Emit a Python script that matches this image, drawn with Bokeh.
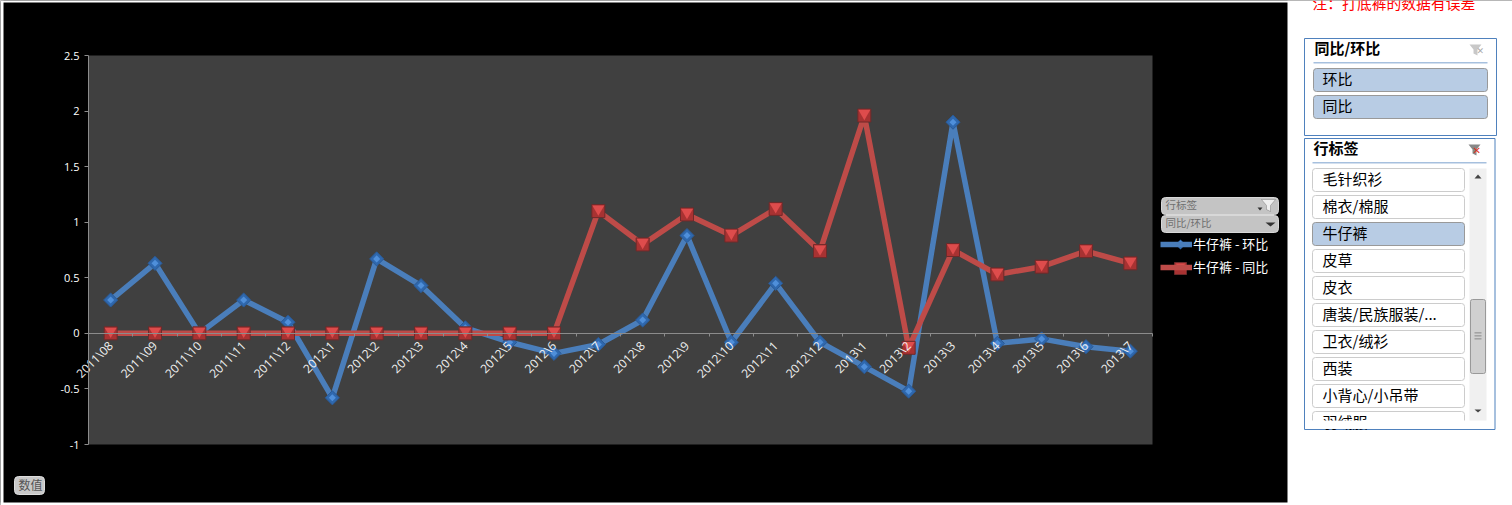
from math import pi
from bokeh.plotting import figure
from bokeh.embed import file_html
from bokeh.resources import INLINE
from bokeh.transform import dodge
from bokeh.models import (ColumnDataSource, Range1d, FixedTicker, BoxAnnotation, Label,
                          Legend, LegendItem, PolyAnnotation, CustomJSTickFormatter)

months = ["2011\\08", "2011\\09", "2011\\10", "2011\\11", "2011\\12",
          "2012\\1", "2012\\2", "2012\\3", "2012\\4", "2012\\5", "2012\\6", "2012\\7", "2012\\8",
          "2012\\9", "2012\\10", "2012\\11", "2012\\12",
          "2013\\1", "2013\\2", "2013\\3", "2013\\4", "2013\\5", "2013\\6", "2013\\7"]
huanbi = [0.30, 0.63, 0.0, 0.30, 0.10, -0.58, 0.67, 0.43, 0.05, -0.08, -0.18, -0.10, 0.12,
          0.88, -0.08, 0.45, -0.08, -0.30, -0.52, 1.90, -0.09, -0.05, -0.12, -0.16]
tongbi = [0, 0, 0, 0, 0, 0, 0, 0, 0, 0, 0, 1.10, 0.80,
          1.07, 0.88, 1.12, 0.74, 1.96, -0.13, 0.75, 0.53, 0.60, 0.74, 0.63]
y_ticks = [-1, -0.5, 0, 0.5, 1, 1.5, 2, 2.5]
slicer1_title = "同比/环比"
slicer1_items = ["环比", "同比"]
slicer2_title = "行标签"
slicer2_items = ["毛针织衫", "棉衣/棉服", "牛仔裤", "皮草", "皮衣", "唐装/民族服装/...",
                 "卫衣/绒衫", "西装", "小背心/小吊带", "羽绒服"]
note = "注：打底裤的数据有误差"
CJK = "Noto Sans CJK SC"

n = len(months)
xs = [i + 0.5 for i in range(n)]

W, H = 1512, 505
# the frame fills the whole canvas; the plot area sits at px 88..1152 x 55..444
ux = (1152 - 88) / n
uy = (444 - 55) / 3.5
x_range = Range1d(-88 / ux, (W - 88) / ux)
y_range = Range1d(-1 - (H - 444) / uy, 2.5 + 55 / uy)
p = figure(width=W, height=H, x_range=x_range, y_range=y_range,
           output_backend="svg", toolbar_location=None,
           min_border=0, background_fill_color="#000000", border_fill_color="#ffffff",
           styles={"position": "absolute", "left": "0px", "top": "0px"})
p.outline_line_color = None
p.grid.visible = False

p.add_layout(BoxAnnotation(left=0, right=n, bottom=-1, top=2.5, fill_color="#404040", fill_alpha=1,
                           line_color=None, level="underlay", editable=False))

# axes
p.yaxis.fixed_location = 0
p.yaxis.bounds = (-1, 2.5)
p.yaxis.ticker = FixedTicker(ticks=y_ticks)
p.yaxis.formatter = CustomJSTickFormatter(code="return String(tick)")
p.yaxis.major_label_text_color = "#ffffff"
p.yaxis.major_label_text_font = "Open Sans"
p.yaxis.major_label_text_font_size = "11px"
p.yaxis.axis_line_color = "#8c8c8c"
p.yaxis.major_tick_line_color = "#8c8c8c"
p.yaxis.major_tick_in = 0
p.yaxis.major_tick_out = 4
p.yaxis.minor_tick_line_color = None
p.yaxis.major_label_standoff = 5

p.xaxis.fixed_location = 0
p.xaxis.bounds = (0, n)
p.xaxis.ticker = FixedTicker(ticks=xs, minor_ticks=list(range(n + 1)))
p.xaxis.major_label_overrides = dict(zip(xs, months))
p.xaxis.major_label_orientation = pi / 4
p.xaxis.major_label_text_color = "#f0f0f0"
p.xaxis.major_label_text_font = "Open Sans"
p.xaxis.major_label_text_font_size = "12px"
p.xaxis.major_tick_line_color = None
p.xaxis.minor_tick_line_color = "#8c8c8c"
p.xaxis.minor_tick_in = 0
p.xaxis.minor_tick_out = 3
p.xaxis.axis_line_color = "#8c8c8c"
p.xaxis.major_label_standoff = 4

# series
l1 = p.line(xs, huanbi, line_color="#4A7EBB", line_width=5.5, line_join="round")
s1 = p.scatter(xs, huanbi, marker="square", angle=pi / 4, size=10, fill_color="#2F68AE", line_color="#2A5A96", line_width=1)
t1 = p.scatter(xs, huanbi, marker="square", angle=pi / 4, size=5, fill_color="#4F8FDA", line_color=None)
l2 = p.line(xs, tongbi, line_color="#BE4B48", line_width=5.5, line_join="round")
s2 = p.scatter(xs, tongbi, marker="square", size=13, fill_color="#A83232", line_color="#6E2A2A", line_width=1)
src2 = ColumnDataSource(dict(x=xs, y=tongbi))
t2 = p.scatter(x="x", y=dodge("y", 0.02, range=p.y_range), source=src2, marker="inverted_triangle", size=12,
               fill_color="#DE4C4C", line_color=None)

def box(x0, y0, x1, y1, fill=None, line=None, radius=0, lw=1):
    p.add_layout(BoxAnnotation(left=x0, right=x1, top=y0, bottom=y1,
                      left_units="canvas", right_units="canvas", top_units="canvas", bottom_units="canvas",
                      fill_color=fill, fill_alpha=1 if fill else 0, line_color=line, line_alpha=1 if line else 0,
                      line_width=lw, border_radius=radius, editable=False))

def text(x, yc, s, size=15, color="#000000", style="normal", font=CJK):
    p.add_layout(Label(x=x, y=yc, x_units="canvas", y_units="canvas", text=s, text_font=font,
                       text_font_size=f"{size}px", text_color=color, text_font_style=style,
                       text_baseline="middle", text_align="left"))

def poly(xs_, ys_, fill, line=None):
    p.add_layout(PolyAnnotation(xs=xs_, ys=ys_, xs_units="canvas", ys_units="canvas", fill_color=fill,
                                fill_alpha=1, line_color=line, editable=False))

# white page around the black chart block
box(1287, 0, W, H, "#ffffff")
box(0, 0, 3, H, "#ffffff")
box(0, 0, W, 2, "#ffffff")
box(0, 502, W, H, "#ffffff")

# field buttons on the chart
box(1161, 197, 1278, 214, "#c4c4c4", "#d8d8d8", 4)
text(1165, 204, slicer2_title, 10.5, "#6f6f6f")
box(1161, 215, 1278, 232, "#c4c4c4", "#d8d8d8", 4)
text(1165, 222, slicer1_title, 10.5, "#6f6f6f")
poly([1261, 1275, 1270, 1270, 1266, 1266], [199, 199, 205, 211, 209, 205], "#eeeeee", "#444444")
poly([1257, 1262, 1259.5], [207, 207, 210], "#333333")
poly([1265, 1275, 1270], [222, 222, 226], "#333333")
box(14, 476, 44, 494, "#c8c8c8", "#dddddd", 4)
text(18, 484, "数值", 12, "#555555")

# legend
legend = Legend(items=[LegendItem(label=f"{slicer2_items[2]} - {slicer1_items[0]}", renderers=[l1]),
                       LegendItem(label=f"{slicer2_items[2]} - {slicer1_items[1]}", renderers=[l2])],
                location=(1160, 229), orientation="vertical", background_fill_alpha=0, border_line_color=None,
                label_text_color="#ffffff", label_text_font=CJK, label_text_font_size="13px",
                glyph_width=32, glyph_height=14, label_standoff=1, spacing=4, margin=0, padding=4,
                label_height=14)
p.add_layout(legend, "center")
poly([1180, 1185, 1180, 1175], [239, 244, 249, 244], "#2F68AE")
poly([1180, 1183, 1180, 1177], [240, 243, 246, 243], "#4F8FDA")
box(1174, 262, 1186, 274, "#A83232", "#6E2A2A")
poly([1175, 1185, 1180], [263, 263, 269], "#DE4C4C")

# note
text(1312, 2, note, 14.8, "#ff0000")

# slicer 1
box(1304, 38, 1496, 135, "#ffffff", "#4F81BD")
text(1314, 47, slicer1_title, 15, "#000000", "bold")
box(1313, 62, 1487, 62.8, "#4F81BD")
for i, s in enumerate(slicer1_items):
    y0 = 68 + 27 * i
    box(1313, y0, 1487, y0 + 23, "#B8CCE4", "#999999", 3)
    text(1322, y0 + 10, s)
poly([1469, 1481, 1477, 1477, 1473, 1473], [44, 44, 49, 55, 53, 49], "#c8c8c8")
text(1476, 50, "✕", 9, "#aaaaaa", "bold", "DejaVu Sans")

# slicer 2
box(1304, 138, 1494.5, 429, "#ffffff", "#4F81BD")
text(1313, 147, slicer2_title, 15, "#000000", "bold")
box(1312, 162, 1486, 162.8, "#4F81BD")
for i, s in enumerate(slicer2_items):
    y0 = 168 + 27 * i
    sel = i == 2
    box(1312, y0, 1464, min(y0 + 23, 424), "#B8CCE4" if sel else "#ffffff", "#999999" if sel else "#cccccc", 3)
    text(1322, y0 + 10, s)
box(1305, 420, 1493.5, 428.4, "#ffffff")
box(1300, 429.6, 1500, 436, "#ffffff")
poly([1468, 1480, 1476, 1476, 1472, 1472], [144, 144, 149, 155, 153, 149], "#888888")
text(1472, 150, "✕", 10, "#e03020", "bold", "DejaVu Sans")

# scrollbar
box(1469, 168, 1486, 420, "#f0f0f0")
box(1470, 299, 1485, 373, "#d0d0d0", "#999999", 2)
poly([1474, 1481, 1477.5], [178, 178, 174], "#444444")
poly([1474, 1481, 1477.5], [409, 409, 412], "#444444")
for yy in (332, 335, 338):
    box(1474, yy, 1481, yy + 0.8, "#777777")

open("out.html", "w").write(file_html(p, INLINE))
